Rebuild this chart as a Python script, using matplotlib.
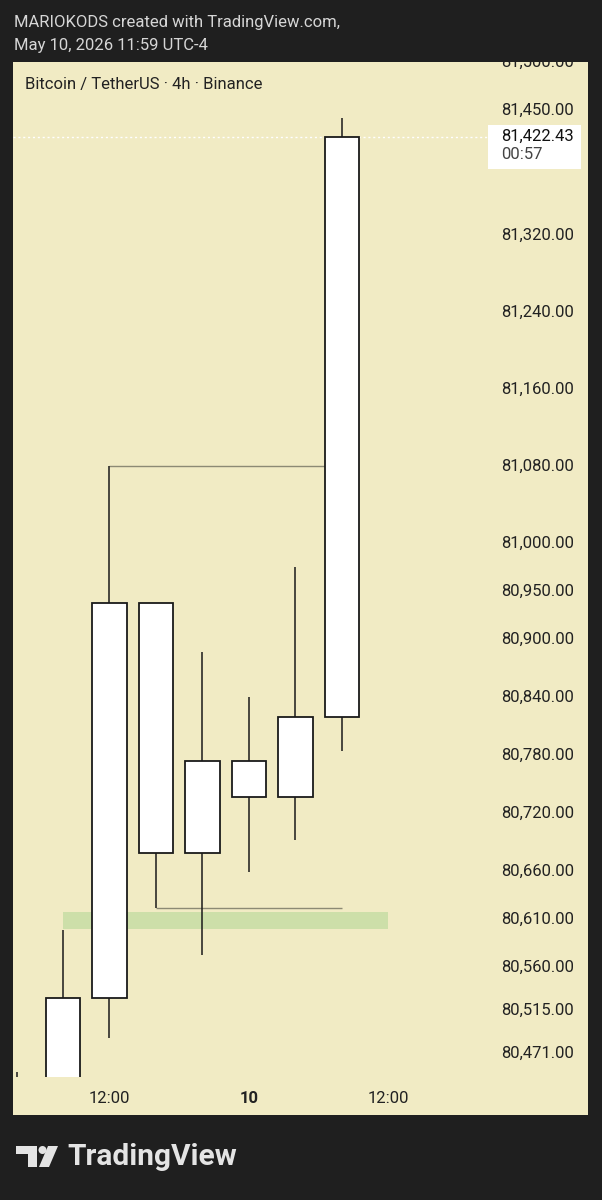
import matplotlib
matplotlib.use('Agg')
import matplotlib.pyplot as plt
from matplotlib.patches import Rectangle, Polygon, Circle
import matplotlib.transforms as mtransforms

plt.rcParams['font.family'] = ['Roboto', 'DejaVu Sans']

# 4h candles, index 0 is the one cut off at the left edge
idx = [0, 1, 2, 3, 4, 5, 6, 7]
opens = [80380, 80400, 80528, 80938, 80679, 80774, 80737, 80819.5]
closes = [80400, 80528, 80938, 80679, 80774, 80737, 80819.5, 81422.43]
highs = [80451, 80598.7, 81080, 80938, 80887, 80840.6, 80975.5, 81441.7]
lows = [80340, 80380, 80486.5, 80621.5, 80572.7, 80659, 80692, 80784.5]

price_ticks = [81500, 81450, 81320, 81240, 81160, 81080, 81000, 80950, 80900,
               80840, 80780, 80720, 80660, 80610, 80560, 80515, 80471]
time_pos = [2, 5, 8]
time_labels = ['12:00', '10', '12:00']

last_price = 81422.43
countdown = '00:57'

# drawn levels
high_level = (81080, 2, 7 - 0.375)     # price, from, to
low_level = (80621.5, 3, 7)
zone = (80599.6, 80617.2, 1, 8)         # lo, hi, from, to

W, H = 602, 1200
BG = '#1f1f1f'
PANEL = '#f1ebc4'

fig = plt.figure(figsize=(W / 100, H / 100), dpi=100)
fig.patch.set_facecolor(BG)

# overlay in pixel coordinates for the frame and decorations
deco = fig.add_axes([0, 0, 1, 1], zorder=0)
deco.set_xlim(0, W)
deco.set_ylim(H, 0)
deco.axis('off')
deco.add_patch(Rectangle((13, 62), 575, 1053, facecolor=PANEL, edgecolor='none'))

deco.text(14, 22.5, 'MARIOKODS created with TradingView.com,', color='#d6d6d6',
          fontsize=12, va='center', ha='left')
deco.text(14, 45.5, 'May 10, 2026 11:59 UTC-4', color='#d6d6d6',
          fontsize=12, va='center', ha='left')

# TradingView logo
logo = '#e4e4e4'
deco.add_patch(Rectangle((16, 1146), 21, 8, facecolor=logo, edgecolor='none'))
deco.add_patch(Rectangle((28, 1146), 9, 21, facecolor=logo, edgecolor='none'))
deco.add_patch(Circle((42.5, 1150), 4.0, facecolor=logo, edgecolor='none'))
deco.add_patch(Polygon([(48, 1146), (58, 1146), (49, 1167), (39, 1167)],
                       facecolor=logo, edgecolor='none'))
deco.text(67, 1157, 'TradingView', color=logo, fontsize=21.5, fontweight='bold',
          va='center', ha='left')

# price chart
left, right, top, bottom = 13, 588, 62, 1077
ax = fig.add_axes([left / W, 1 - bottom / H, (right - left) / W, (bottom - top) / H],
                  zorder=1)
ax.set_facecolor('none')
ax.set_xlim((left - 16.5) / 46.5, (right - 16.5) / 46.5)
ax.set_ylim(80446, 81500)
for s in ax.spines.values():
    s.set_visible(False)
ax.set_yticks([])
ax.set_xticks(time_pos)
ax.set_xticklabels(time_labels)
ax.tick_params(axis='x', length=0, pad=10, labelsize=12, labelcolor='#222222')
for lab in ax.get_xticklabels():
    if lab.get_text() == '10':
        lab.set_fontweight('bold')

# levels and zone
ax.add_patch(Rectangle((zone[2], zone[0]), zone[3] - zone[2], zone[1] - zone[0],
                       facecolor='#cddfa9', edgecolor='none', zorder=1))
ax.hlines(high_level[0], high_level[1], high_level[2], color='#8c8a74', lw=1, zorder=2)
ax.hlines(low_level[0], low_level[1], low_level[2], color='#8c8a74', lw=1, zorder=2)

# current price line
ax.axhline(last_price, xmax=(488 - left) / (right - left), color='#ffffff',
           lw=1, ls=(0, (1.5, 2)), zorder=2)

# candles
body_lo = [min(o, c) for o, c in zip(opens, closes)]
body_hi = [max(o, c) for o, c in zip(opens, closes)]
ax.vlines(idx, lows, body_lo, color='#1a1a1a', lw=1.1, zorder=3)
ax.vlines(idx, body_hi, highs, color='#1a1a1a', lw=1.1, zorder=3)
ax.bar(idx, [h - l for h, l in zip(body_hi, body_lo)], bottom=body_lo, width=0.75,
       color='white', edgecolor='#1a1a1a', linewidth=1.3, zorder=4)

# price scale labels
trans = mtransforms.blended_transform_factory(ax.transAxes, ax.transData)
xr = (574 - left) / (right - left)
for p in price_ticks:
    ax.text(xr, p, f'{p:,.2f}', transform=trans, ha='right', va='center',
            fontsize=12, color='#222222', clip_on=True, zorder=5)

# last price label box
x0 = (488 - left) / (right - left)
x1 = (581 - left) / (right - left)
ax.add_patch(Rectangle((x0, last_price - 33.7), x1 - x0, 45.7,
                       transform=trans, facecolor='white', edgecolor='none',
                       zorder=6, clip_on=False))
ax.text(xr, last_price, f'{last_price:,.2f}', transform=trans, ha='right',
        va='center', fontsize=12, color='#111111', zorder=7)
ax.text((501 - left) / (right - left), last_price - 19, countdown, transform=trans,
        ha='left', va='center', fontsize=12, color='#444444', zorder=7)

ax.text((25 - left) / (right - left), 81477, 'Bitcoin / TetherUS · 4h · Binance',
        transform=trans, ha='left', va='center', fontsize=12, color='#222222',
        zorder=7)

fig.savefig('out.png', dpi=100, facecolor=BG)
